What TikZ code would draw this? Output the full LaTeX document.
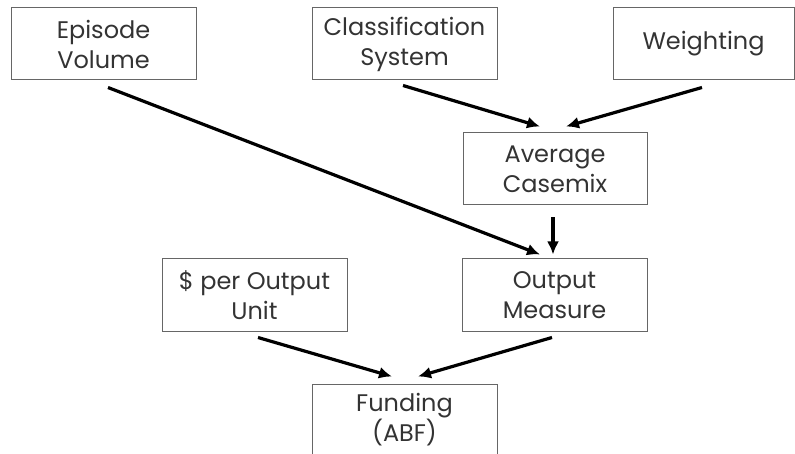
\documentclass[tikz,border=0pt]{standalone}
\usepackage{fontspec}
\setmainfont{Poppins}
\usetikzlibrary{arrows.meta}
\colorlet{box edge}{black!60}
\colorlet{box text}{black!80}
\tikzset{stage/.style={draw=box edge, line width=1pt, text=box text, inner sep=0pt,
    minimum width=185pt, minimum height=72pt, align=center,
    font=\fontsize{24}{30}\selectfont},
    feed/.style={line width=3.2pt, -{Latex[length=13pt,width=12pt]}}}

\begin{document}
\begin{tikzpicture}[x=1pt,y=-1pt]
            \useasboundingbox (0,0) rectangle (795,454);
            \clip (0,0) rectangle (795,454);
            % top row
            \node[stage] (episode) at (103.5,44) {Episode\\Volume};
            \node[stage] (classif) at (404.5,44) {Classification\\System};
            \node[stage, minimum width=181pt] (weight) at (703.5,44) {Weighting};
            % middle
            \node[stage, minimum width=184pt] (casemix) at (555,169) {Average\\Casemix};
            \node[stage] (rate) at (254.5,295) {\$ per Output\\Unit};
            \node[stage] (output) at (554.5,295) {Output\\Measure};
            % bottom
            \node[stage] (funding) at (404.5,420) {Funding\\(ABF)};
            % connectors
            \draw[feed] ([xshift=4.5pt,yshift=-7pt]episode.south)
                     -- ([xshift=-14.5pt,yshift=4pt]output.north);
            \draw[feed] ([xshift=-1.5pt,yshift=-5pt]classif.south)
                     -- ([xshift=-15pt,yshift=6pt]casemix.north);
            \draw[feed] ([xshift=-1.5pt,yshift=-7pt]weight.south)
                     -- ([xshift=11pt,yshift=6pt]casemix.north);
            \draw[feed] ([xshift=-2pt,yshift=-12pt]casemix.south)
                     -- ([xshift=-1.5pt,yshift=4pt]output.north);
            \draw[feed] ([xshift=3.5pt,yshift=-6pt]rate.south)
                     -- ([xshift=-12.5pt,yshift=7pt]funding.north);
            \draw[feed] ([xshift=-2.5pt,yshift=-6pt]output.south)
                     -- ([xshift=13.5pt,yshift=7pt]funding.north);
        \end{tikzpicture}
\end{document}
